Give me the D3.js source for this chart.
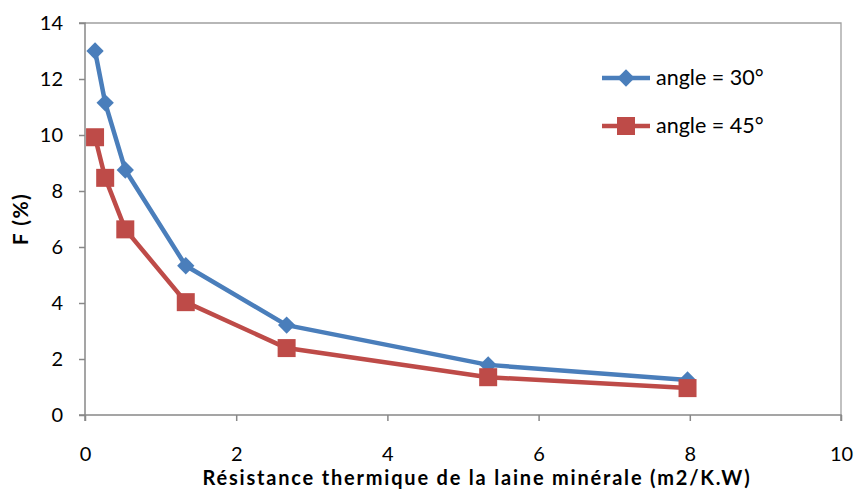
<!DOCTYPE html>
<html><head><meta charset="utf-8">
<script src="https://cdn.jsdelivr.net/npm/d3@7"></script>
<style>body{margin:0;background:#fff}svg{display:block}</style>
</head><body>
<svg id="c" width="858" height="493"></svg>
<script>
const xValues = [0.133, 0.267, 0.533, 1.333, 2.667, 5.333, 7.97];
const angle30 = [13.0, 11.15, 8.75, 5.33, 3.21, 1.79, 1.25];
const angle45 = [9.92, 8.47, 6.63, 4.03, 2.39, 1.35, 0.96];
const seriesNames = ["angle = 30°", "angle = 45°"];
const xTicks = [0, 2, 4, 6, 8, 10];
const yTicks = [0, 2, 4, 6, 8, 10, 12, 14];

const svg = d3.select("#c");
const font = "Lato, 'Open Sans', sans-serif";
const L = 85, R = 841, T = 23, B = 415;
const x = d3.scaleLinear().domain([0, 10]).range([L, R]);
const y = d3.scaleLinear().domain([0, 14]).range([B, T]);

svg.append("path").attr("d", `M${L},${T}H${R}V${B}`).attr("fill","none").attr("stroke","#a0a0a0").attr("stroke-width",1.3);

const xa = svg.append("g").attr("transform", `translate(0,${B})`).call(d3.axisBottom(x).tickValues(xTicks).tickSize(6).tickPadding(26));
const ya = svg.append("g").attr("transform", `translate(${L},0)`).call(d3.axisLeft(y).tickValues(yTicks).tickSize(6).tickPadding(16));
[xa, ya].forEach(a => {
  a.selectAll("path,line").attr("stroke", "#888").attr("stroke-width", 1.5);
  a.selectAll("text").attr("font-family", font).attr("font-size", 20).attr("fill", "#000");
});
ya.select(".domain").attr("d", `M-6,${B}H0V${T}H-6`);
xa.select(".domain").attr("d", `M${L},6V0H${R}V6`);

svg.append("text").attr("x", 477).attr("y", 485).attr("text-anchor","middle")
  .attr("font-family", font).attr("font-weight","bold").attr("font-size",20).attr("letter-spacing", 1.8)
  .text("Résistance thermique de la laine minérale (m2/K.W)");
svg.append("text").attr("transform", `translate(28,219) rotate(-90)`).attr("text-anchor","middle")
  .attr("font-family", font).attr("font-weight","bold").attr("font-size",21).attr("letter-spacing", 1.5).text("F (%)");

const colors = ["#4a7ebb", "#be4b48"];
const data = [angle30, angle45];
const line = d3.line().x((d,i) => x(xValues[i])).y(d => y(d));
const diamond = d3.symbol().type(d3.symbolSquare).size(150);
const square = d3.symbol().type(d3.symbolSquare).size(324);
const markerTf = k => k === 0 ? " rotate(45)" : "";

data.forEach((s, k) => {
  svg.append("path").datum(s).attr("d", line).attr("fill","none").attr("stroke", colors[k]).attr("stroke-width", 4.5).attr("stroke-linejoin","round");
});
data.forEach((s, k) => {
  svg.selectAll(null).data(s).enter().append("path")
    .attr("d", k === 0 ? diamond() : square())
    .attr("transform", (d,i) => `translate(${x(xValues[i])},${y(d)})` + markerTf(k))
    .attr("fill", colors[k]);
});

const lg = svg.append("g");
[78, 126].forEach((ly, k) => {
  lg.append("line").attr("x1", 602).attr("x2", 650).attr("y1", ly).attr("y2", ly).attr("stroke", colors[k]).attr("stroke-width", 4.5);
  lg.append("path").attr("d", k === 0 ? diamond() : square())
    .attr("transform", `translate(626,${ly})` + markerTf(k)).attr("fill", colors[k]);
  lg.append("text").attr("x", 656).attr("y", ly + 7).attr("font-family", font).attr("font-size", 21.5).text(seriesNames[k]);
});
</script>
</body></html>
